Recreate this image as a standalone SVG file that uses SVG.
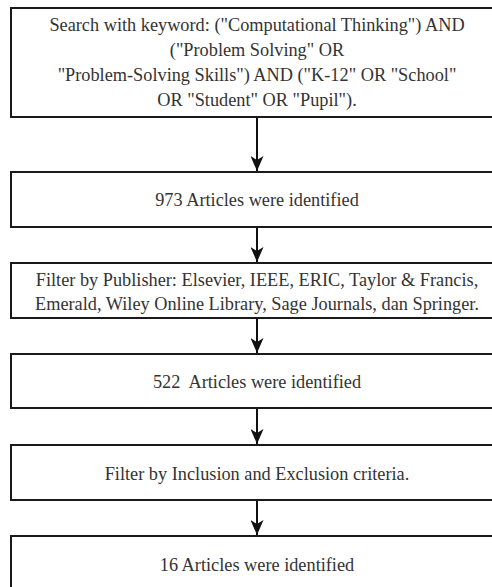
<svg xmlns="http://www.w3.org/2000/svg" width="492" height="587" viewBox="0 0 492 587">
<defs>
<style>
.box{fill:#ffffff;stroke:#1a1a1a;stroke-width:2}
.lbl{font-family:"Liberation Serif","Times New Roman",serif;font-size:18.3px;fill:#333333;text-anchor:middle;white-space:pre}
.edge{stroke:#111111;stroke-width:2;fill:none}
</style>
<marker id="arr" viewBox="0 0 15 13" refX="15" refY="6.5" markerWidth="15" markerHeight="13" markerUnits="userSpaceOnUse" orient="auto">
<path d="M0,0 L15,6.5 L0,13 L4,6.5 Z" fill="#111111"/>
</marker>
</defs>
<rect width="492" height="587" fill="#ffffff"/>
<g id="connectors">
<line class="edge" x1="257" y1="117" x2="257" y2="171" marker-end="url(#arr)"/>
<line class="edge" x1="257" y1="227" x2="257" y2="262" marker-end="url(#arr)"/>
<line class="edge" x1="257" y1="318" x2="257" y2="353" marker-end="url(#arr)"/>
<line class="edge" x1="257" y1="408" x2="257" y2="444" marker-end="url(#arr)"/>
<line class="edge" x1="257" y1="500" x2="257" y2="535" marker-end="url(#arr)"/>
</g>
<g id="search">
<rect class="box" x="11" y="8" width="492" height="109"/>
<text class="lbl" x="257" y="31">Search with keyword: ("Computational Thinking") AND</text>
<text class="lbl" x="257" y="56">("Problem Solving" OR</text>
<text class="lbl" x="257" y="81">"Problem-Solving Skills") AND ("K-12" OR "School"</text>
<text class="lbl" x="257" y="106">OR "Student" OR "Pupil").</text>
</g>
<g id="identified973">
<rect class="box" x="11" y="172" width="492" height="55"/>
<text class="lbl" x="257" y="206">973 Articles were identified</text>
</g>
<g id="publisher">
<rect class="box" x="11" y="263" width="492" height="55"/>
<text class="lbl" x="257" y="286">Filter by Publisher: Elsevier, IEEE, ERIC, Taylor &amp; Francis,</text>
<text class="lbl" x="257" y="310">Emerald, Wiley Online Library, Sage Journals, dan Springer.</text>
</g>
<g id="identified522">
<rect class="box" x="11" y="354" width="492" height="54"/>
<text class="lbl" x="257" y="388" xml:space="preserve">522  Articles were identified</text>
</g>
<g id="criteria">
<rect class="box" x="11" y="445" width="492" height="55"/>
<text class="lbl" x="257" y="480">Filter by Inclusion and Exclusion criteria.</text>
</g>
<g id="identified16">
<rect class="box" x="11" y="536" width="492" height="55"/>
<text class="lbl" x="257" y="571">16 Articles were identified</text>
</g>
</svg>
